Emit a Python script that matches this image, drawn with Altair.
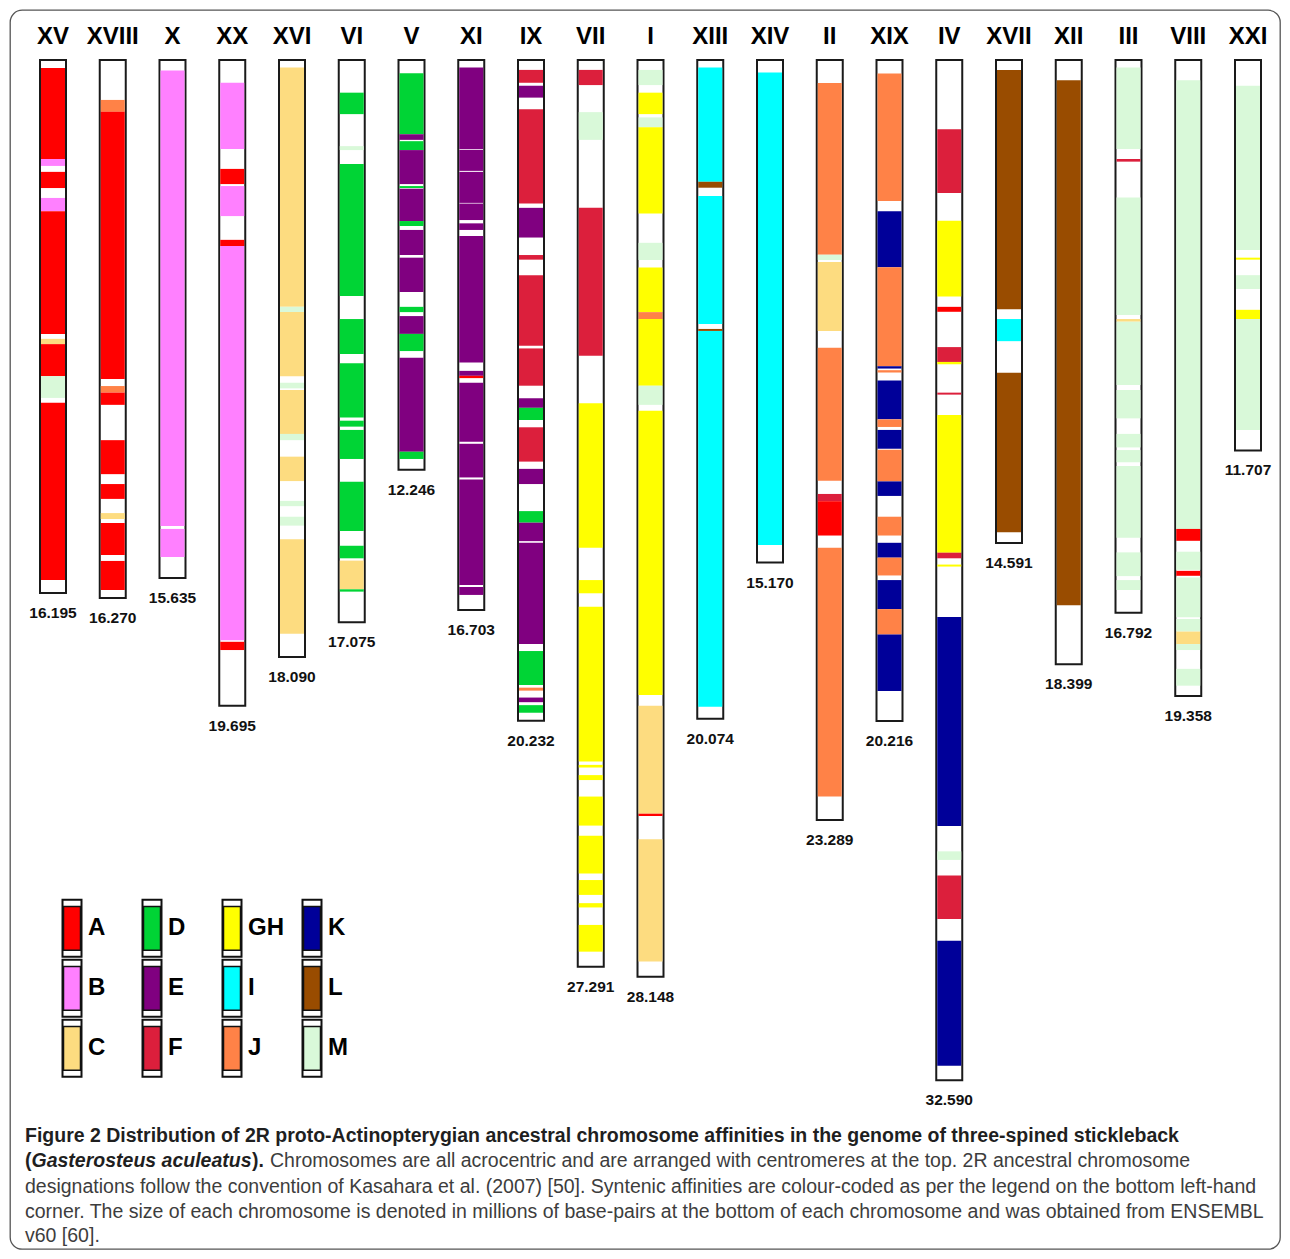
import altair as alt
import pandas as pd

# ---------------- data (positions along chromosome in Mb) ----------------
names = ["XV", "XVIII", "X", "XX", "XVI", "VI", "V", "XI", "IX", "VII", "I",
         "XIII", "XIV", "II", "XIX", "IV", "XVII", "XII", "III", "VIII", "XXI"]
sizes = ["16.195", "16.270", "15.635", "19.695", "18.090", "17.075", "12.246", "16.703",
         "20.232", "27.291", "28.148", "20.074", "15.170", "23.289", "20.216", "32.590",
         "14.591", "18.399", "16.792", "19.358", "11.707"]
bar_end_mb = [16.15, 16.30, 15.70, 19.57, 18.09, 17.04, 12.42, 16.67, 20.02, 27.48, 27.78,
              19.96, 15.23, 23.03, 20.03, 30.92, 14.64, 18.31, 16.75, 19.27, 11.83]

cats = ["A", "B", "C", "D", "E", "F", "GH", "I", "J", "K", "L", "M"]
cat_colors = ["#FF0000", "#FF80FF", "#FDDC80", "#00D435", "#800080", "#DC1F3C",
              "#FFFF00", "#00FFFF", "#FF8247", "#000099", "#994C00", "#D9F9D9"]

chr_XV = [(0.24, 3.00, "A"), (3.00, 3.21, "B"), (3.39, 3.88, "A"), (4.18, 4.58, "B"),
          (4.58, 8.30, "A"), (8.45, 8.61, "C"), (8.61, 9.58, "A"), (9.58, 10.24, "M"),
          (10.39, 15.76, "A")]
chr_XVIII = [(1.21, 1.57, "J"), (1.57, 9.67, "A"), (9.88, 10.08, "J"), (10.08, 10.45, "A"),
             (11.52, 12.55, "A"), (12.85, 13.30, "A"), (13.73, 13.91, "C"), (14.03, 15.00, "A"),
             (15.18, 16.06, "A")]
chr_X = [(0.32, 14.12, "B"), (14.21, 15.06, "B")]
chr_XX = [(0.69, 2.70, "B"), (3.30, 3.76, "A"), (3.82, 4.73, "B"), (5.45, 5.64, "A"),
          (5.64, 17.58, "B"), (17.63, 17.88, "A")]
chr_XVI = [(0.23, 7.48, "C"), (7.48, 7.64, "M"), (7.64, 9.58, "C"), (9.78, 9.95, "M"),
           (10.00, 11.33, "C"), (11.33, 11.52, "M"), (12.02, 12.76, "C"), (13.36, 13.52, "M"),
           (13.84, 14.11, "M"), (14.52, 17.39, "C")]
chr_VI = [(0.99, 1.64, "D"), (2.61, 2.73, "M"), (3.15, 7.15, "D"), (7.85, 8.91, "D"),
          (9.19, 10.83, "D"), (10.93, 11.11, "D"), (11.21, 12.09, "D"), (12.78, 14.27, "D"),
          (14.72, 15.10, "D"), (15.17, 16.04, "C"), (16.04, 16.11, "D")]
chr_V = [(0.40, 2.25, "D"), (2.25, 2.42, "E"), (2.46, 2.73, "D"), (2.73, 3.76, "E"),
         (3.82, 3.88, "D"), (3.90, 4.88, "E"), (4.88, 5.03, "D"), (5.15, 5.91, "E"),
         (5.99, 7.03, "E"), (7.48, 7.64, "D"), (7.76, 8.30, "E"), (8.30, 8.82, "D"),
         (9.02, 11.87, "E"), (11.87, 12.09, "D")]
chr_XI = [(0.23, 2.70, "E"), (2.72, 3.36, "E"), (3.39, 4.33, "E"), (4.35, 4.85, "E"),
          (4.95, 5.15, "E"), (5.33, 9.17, "E"), (9.42, 9.57, "E"), (9.57, 9.64, "A"),
          (9.78, 11.57, "E"), (11.63, 12.65, "E"), (12.71, 15.91, "E"), (15.97, 16.21, "E")]
chr_IX = [(0.30, 0.69, "F"), (0.78, 1.14, "E"), (1.49, 4.35, "F"), (4.48, 5.38, "E"),
          (5.91, 6.05, "F"), (6.52, 8.66, "F"), (8.74, 9.87, "F"), (10.25, 10.54, "E"),
          (10.54, 10.91, "D"), (11.13, 12.17, "F"), (12.39, 12.85, "E"), (13.67, 14.02, "D"),
          (14.02, 14.58, "E"), (14.63, 17.70, "E"), (17.91, 18.94, "D"), (19.02, 19.11, "J"),
          (19.32, 19.46, "E"), (19.55, 19.78, "D")]
chr_VII = [(0.30, 0.76, "F"), (1.58, 2.42, "M"), (4.48, 8.96, "F"), (10.40, 14.78, "GH"),
           (15.76, 16.16, "GH"), (16.57, 21.26, "GH"), (21.36, 21.44, "GH"), (21.67, 21.82, "GH"),
           (22.32, 23.20, "GH"), (23.51, 24.65, "GH"), (24.85, 25.30, "GH"), (25.55, 25.68, "GH"),
           (26.21, 27.02, "GH")]
chr_I = [(0.30, 0.76, "M"), (0.99, 1.64, "GH"), (1.74, 2.04, "M"), (2.04, 4.65, "GH"),
         (5.54, 6.06, "M"), (6.29, 7.64, "GH"), (7.64, 7.85, "J"), (7.85, 9.87, "GH"),
         (9.87, 10.45, "M"), (10.63, 19.24, "GH"), (19.57, 22.84, "C"), (22.84, 22.91, "A"),
         (23.61, 27.32, "C")]
chr_XIII = [(0.23, 3.69, "I"), (3.69, 3.87, "L"), (4.12, 8.00, "I"), (8.15, 8.21, "L"),
            (8.21, 19.60, "I")]
chr_XIV = [(0.38, 14.70, "I")]
chr_II = [(0.70, 5.90, "J"), (5.90, 6.06, "M"), (6.12, 8.21, "C"), (8.72, 12.75, "J"),
          (13.15, 13.37, "F"), (13.37, 14.41, "A"), (14.78, 22.32, "J")]
chr_XIX = [(0.41, 4.27, "J"), (4.58, 6.28, "K"), (6.28, 9.28, "J"), (9.28, 9.35, "K"),
           (9.40, 9.47, "J"), (9.71, 10.89, "K"), (10.89, 11.12, "J"), (11.21, 11.78, "K"),
           (11.81, 12.77, "J"), (12.77, 13.21, "K"), (13.84, 14.41, "J"), (14.63, 15.08, "K"),
           (15.08, 15.62, "J"), (15.76, 16.64, "K"), (16.64, 17.41, "J"), (17.41, 19.12, "K")]
chr_IV = [(2.10, 4.03, "F"), (4.87, 7.17, "GH"), (7.48, 7.63, "A"), (8.70, 9.15, "F"),
          (9.15, 9.22, "GH"), (10.08, 10.14, "F"), (10.76, 14.93, "GH"), (14.93, 15.10, "F"),
          (15.29, 15.35, "GH"), (16.88, 23.21, "K"), (23.98, 24.24, "M"), (24.71, 26.03, "F"),
          (26.69, 30.48, "K")]
chr_XVII = [(0.30, 7.55, "L"), (7.85, 8.52, "I"), (9.48, 14.31, "L")]
chr_XII = [(0.61, 16.52, "L")]
chr_III = [(0.23, 2.70, "M"), (3.00, 3.08, "F"), (4.17, 7.73, "M"), (7.85, 7.93, "C"),
           (7.93, 9.85, "M"), (10.00, 10.86, "M"), (11.33, 11.74, "M"), (11.82, 12.19, "M"),
           (12.30, 14.48, "M"), (14.92, 15.64, "M"), (15.76, 16.06, "M")]
chr_VIII = [(0.61, 14.21, "M"), (14.21, 14.57, "A"), (14.90, 15.45, "M"), (15.48, 15.63, "A"),
            (15.68, 16.89, "M"), (16.94, 17.32, "M"), (17.32, 17.70, "C"), (17.70, 17.88, "M"),
            (18.45, 18.96, "M")]
chr_XXI = [(0.78, 5.76, "M"), (5.99, 6.05, "GH"), (6.52, 6.94, "M"), (7.57, 7.85, "GH"),
           (7.85, 11.21, "M")]

segments = [chr_XV, chr_XVIII, chr_X, chr_XX, chr_XVI, chr_VI, chr_V, chr_XI, chr_IX, chr_VII,
            chr_I, chr_XIII, chr_XIV, chr_II, chr_XIX, chr_IV, chr_XVII, chr_XII, chr_III,
            chr_VIII, chr_XXI]

caption_l1 = ("Figure 2 Distribution of 2R proto-Actinopterygian ancestral chromosome "
              "affinities in the genome of three-spined stickleback")
caption_l2_species = "Gasterosteus aculeatus"
caption_l2_rest = ("Chromosomes are all acrocentric and are arranged with centromeres at the top. "
                   "2R ancestral chromosome")
caption_l3 = ("designations follow the convention of Kasahara et al. (2007) [50]. Syntenic "
              "affinities are colour-coded as per the legend on the bottom left-hand")
caption_l4 = ("corner. The size of each chromosome is denoted in millions of base-pairs at the "
              "bottom of each chromosome and was obtained from ENSEMBL")
caption_l5 = "v60 [60]."

# ---------------- tables ----------------
chrom_df = pd.DataFrame({"idx": list(range(len(names))), "name": names, "size": sizes,
                         "start": 0.0, "end": bar_end_mb})
rows = []
for i, segs in enumerate(segments):
    for s, e, c in segs:
        rows.append({"idx": i, "start": s, "end": e, "cat": c})
seg_df = pd.DataFrame(rows)
leg_df = pd.DataFrame({"cat": cats, "col": [i // 3 for i in range(len(cats))],
                       "row": [i % 3 for i in range(len(cats))]})

FONT = "Liberation Sans"
xs = alt.Scale(domain=[0, 20], range=[43, 1238], padding=0)
ys = alt.Scale(domain=[0, 36], range=[50, 1238], padding=0)
cs = alt.Scale(domain=cats, range=cat_colors)
lx = alt.Scale(domain=[0, 3], range=[62, 302], padding=0)
ly = alt.Scale(domain=[0, 3], range=[888, 1068], padding=0)

outline = alt.Chart(chrom_df).mark_bar(width=26, fill="white", stroke="#1a1a1a",
                                       strokeWidth=2).encode(
    x=alt.X("idx:Q", scale=xs, axis=None),
    y=alt.Y("start:Q", scale=ys, axis=None),
    y2="end:Q")

segs_layer = alt.Chart(seg_df).mark_bar(width=24).encode(
    x=alt.X("idx:Q", scale=xs, axis=None),
    y=alt.Y("start:Q", scale=ys, axis=None),
    y2="end:Q",
    color=alt.Color("cat:N", scale=cs, legend=None))

top_labels = alt.Chart(chrom_df).mark_text(font=FONT, fontSize=24, fontWeight="bold",
                                           baseline="middle", color="#000").encode(
    x=alt.X("idx:Q", scale=xs, axis=None),
    y=alt.value(27),
    text="name:N")

size_labels = alt.Chart(chrom_df).mark_text(font=FONT, fontSize=15.5, fontWeight="bold",
                                            baseline="middle", dy=20, color="#111").encode(
    x=alt.X("idx:Q", scale=xs, axis=None),
    y=alt.Y("end:Q", scale=ys, axis=None),
    text="size:N")

leg_base = alt.Chart(leg_df).transform_calculate(
    o0="datum.row + 0.03", o1="datum.row + 0.98",
    c0="datum.row + 0.14", c1="datum.row + 0.87", mid="datum.row + 0.5")

leg_outline = leg_base.mark_bar(width=19, fill="white", stroke="#111", strokeWidth=2).encode(
    x=alt.X("col:Q", scale=lx, axis=None),
    y=alt.Y("o0:Q", scale=ly, axis=None), y2="o1:Q")
leg_color = leg_base.mark_bar(width=17, stroke="#111", strokeWidth=1.5).encode(
    x=alt.X("col:Q", scale=lx, axis=None),
    y=alt.Y("c0:Q", scale=ly, axis=None), y2="c1:Q",
    color=alt.Color("cat:N", scale=cs, legend=None))
leg_text = leg_base.mark_text(font=FONT, fontSize=24, fontWeight="bold", align="left",
                              baseline="middle", dx=16, color="#000").encode(
    x=alt.X("col:Q", scale=lx, axis=None),
    y=alt.Y("mid:Q", scale=ly, axis=None),
    text="cat:N")

CAP_FONT = "Liberation Sans"
CAP_SIZE = 19.5


def cap(text, x, y, weight="normal", style="normal", color="#3d3d3d"):
    return alt.Chart(pd.DataFrame({"t": [text]})).mark_text(
        font=CAP_FONT, fontSize=CAP_SIZE, fontWeight=weight, fontStyle=style,
        align="left", baseline="middle", color=color).encode(
        x=alt.value(x), y=alt.value(y), text="t:N")


captions = [
    cap(caption_l1, 15, 1126, "bold", color="#1f1f1f"),
    cap("(", 15, 1151, "bold", color="#1f1f1f"),
    cap(caption_l2_species, 21.5, 1151, "bold", "italic", color="#1f1f1f"),
    cap(").", 242, 1151, "bold", color="#1f1f1f"),
    cap(caption_l2_rest, 260, 1151),
    cap(caption_l3, 15, 1177),
    cap(caption_l4, 15, 1202),
    cap(caption_l5, 15, 1226),
]

chart = alt.layer(outline, segs_layer, top_labels, size_labels,
                  leg_outline, leg_color, leg_text, *captions).resolve_scale(
    x="independent", y="independent"
).properties(
    width=1270, height=1239, padding=2, autosize=alt.AutoSizeParams(type="none")
).configure_view(
    stroke="#555555", strokeWidth=1.3, cornerRadius=12
)

chart.save("out.html", embed_options={"renderer": "svg", "actions": False})
